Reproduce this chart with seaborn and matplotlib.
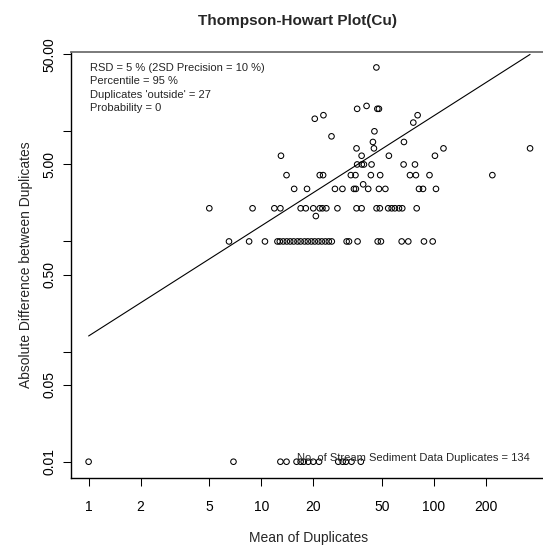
import matplotlib
matplotlib.use("Agg")
import matplotlib.pyplot as plt
import numpy as np
import pandas as pd
import seaborn as sns

# ---- data ----
# Mean of duplicates, grouped by absolute difference between duplicates
mean_diff_001 = [1.0, 6.9, 12.9, 14.0, 16.0, 16.9, 17.6, 18.7, 20.0, 21.6, 27.9, 29.6, 30.9, 33.3, 37.7]
mean_diff_1 = [6.5, 8.5, 10.5, 12.4, 12.8, 13.4, 14.05, 14.7, 15.4, 16.2, 16.9, 17.8, 18.6, 19.5,
               20.4, 21.4, 22.4, 23.5, 24.6, 25.6, 31.2, 32.2, 36.1, 47.2, 49.3, 65.0, 71.0, 87.5, 98.3]
mean_diff_1_7 = [20.7]
mean_diff_2 = [5.0, 8.9, 11.9, 12.9, 16.9, 18.1, 20.0, 21.8, 22.6, 23.8, 27.6, 35.6, 38.1, 46.5,
               48.6, 54.3, 56.9, 59.4, 62.7, 65.5, 79.4]
mean_diff_3 = [15.5, 18.4, 26.7, 29.5, 34.4, 35.3, 41.6, 48.0, 52.3, 81.9, 86.4, 102.7]
mean_diff_3_3 = [38.9]
mean_diff_4 = [14.0, 21.8, 22.8, 33.0, 35.1, 43.1, 48.8, 72.6, 78.6, 94.2, 217.8]
mean_diff_5 = [35.9, 38.2, 39.3, 43.5, 66.7, 77.6]
mean_diff_6 = [13.0, 38.1, 54.8, 101.3]
mean_diff_7 = [35.6, 44.9, 113.5, 360.1]
mean_diff_8 = [44.3, 67.0]
mean_diff_9 = [25.5]
mean_diff_10 = [45.2]
mean_diff_12 = [75.9]
mean_diff_13 = [20.4]
mean_diff_14 = [22.9, 80.4]
mean_diff_16 = [35.9, 47.0, 48.0]
mean_diff_17 = [40.7]
mean_diff_38 = [46.4]

groups = [
    (0.01, mean_diff_001), (1, mean_diff_1), (1.7, mean_diff_1_7), (2, mean_diff_2),
    (3, mean_diff_3), (3.3, mean_diff_3_3), (4, mean_diff_4), (5, mean_diff_5),
    (6, mean_diff_6), (7, mean_diff_7), (8, mean_diff_8), (9, mean_diff_9),
    (10, mean_diff_10), (12, mean_diff_12), (13, mean_diff_13), (14, mean_diff_14),
    (16, mean_diff_16), (17, mean_diff_17), (38, mean_diff_38),
]

# Thompson-Howarth 95th percentile line for RSD = 5 %
line_mean = [1.0, 360.1]
line_diff = [0.1386, 49.9]

x_ticks = [1, 2, 5, 10, 20, 50, 100, 200]
x_tick_labels = ["1", "2", "5", "10", "20", "50", "100", "200"]
y_ticks = [0.01, 0.05, 0.1, 0.5, 1, 5, 10, 50]
y_tick_labels = ["0.01", "0.05", "", "0.50", "", "5.00", "", "50.00"]

info_lines = ["RSD = 5 % (2SD Precision = 10 %)", "Percentile = 95 %",
              "Duplicates 'outside' = 27", "Probability = 0"]

df = pd.DataFrame(
    [(m, d) for d, means in groups for m in means],
    columns=["mean", "diff"],
)
line_df = pd.DataFrame({"mean": line_mean, "diff": line_diff})

# ---- style ----
sns.set_style("white")
plt.rcParams["font.family"] = ["Liberation Sans", "DejaVu Sans"]

W, H = 543, 547
fig = plt.figure(figsize=(W / 100, H / 100), dpi=100)
ax_left, ax_right, ax_top, ax_bottom = 71, 547.6, 52, 478
ax = fig.add_axes([ax_left / W, 1 - ax_bottom / H, (ax_right - ax_left) / W, (ax_bottom - ax_top) / H])

ax.set_xscale("log")
ax.set_yscale("log")

sns.lineplot(data=line_df, x="mean", y="diff", ax=ax, color="black", linewidth=0.8)
sns.scatterplot(data=df, x="mean", y="diff", ax=ax, marker="o", s=16,
                facecolors="none", edgecolor="black", linewidth=0.75)

ax.set_xlim(10 ** -0.102, 10 ** 2.658)
ax.set_ylim(10 ** -2.1478, 10 ** 1.72)

ax.set_xticks(x_ticks)
ax.set_xticklabels(x_tick_labels)
ax.set_yticks(y_ticks)
ax.set_yticklabels(y_tick_labels, rotation=90, va="center")
ax.minorticks_off()
ax.tick_params(axis="both", direction="out", length=5.5, width=0.75, color="black",
               labelsize=10, labelcolor="black")
ax.tick_params(axis="x", pad=10, bottom=True)
ax.tick_params(axis="y", pad=5, left=True)

for s in ["left", "bottom"]:
    ax.spines[s].set_color("black")
    ax.spines[s].set_linewidth(1.0)
ax.spines["top"].set_color("#707070")
ax.spines["top"].set_linewidth(1.3)
ax.spines["right"].set_visible(False)

ax.set_xlabel("Mean of Duplicates", fontsize=10)
ax.set_ylabel("Absolute Difference between Duplicates", fontsize=10)
ax.xaxis.set_label_coords((309 - ax_left) / (ax_right - ax_left), -(538 - ax_bottom) / (ax_bottom - ax_top))
ax.xaxis.label.set_verticalalignment("center")
ax.yaxis.set_label_coords(-(ax_left - 26.5) / (ax_right - ax_left), 0.5)
ax.yaxis.label.set_verticalalignment("center")

fig.text(297 / W, 1 - 21 / H, "Thompson-Howart Plot(Cu)", fontsize=11, fontweight="bold",
         ha="center", va="center")

for i, t in enumerate(info_lines):
    fig.text(90 / W, 1 - (68 + 13.4 * i) / H, t, fontsize=8, ha="left", va="center")

fig.text(530 / W, 1 - 458 / H, "No. of Stream Sediment Data Duplicates = 134", fontsize=8,
         ha="right", va="center")

fig.savefig("out.png", dpi=100)
